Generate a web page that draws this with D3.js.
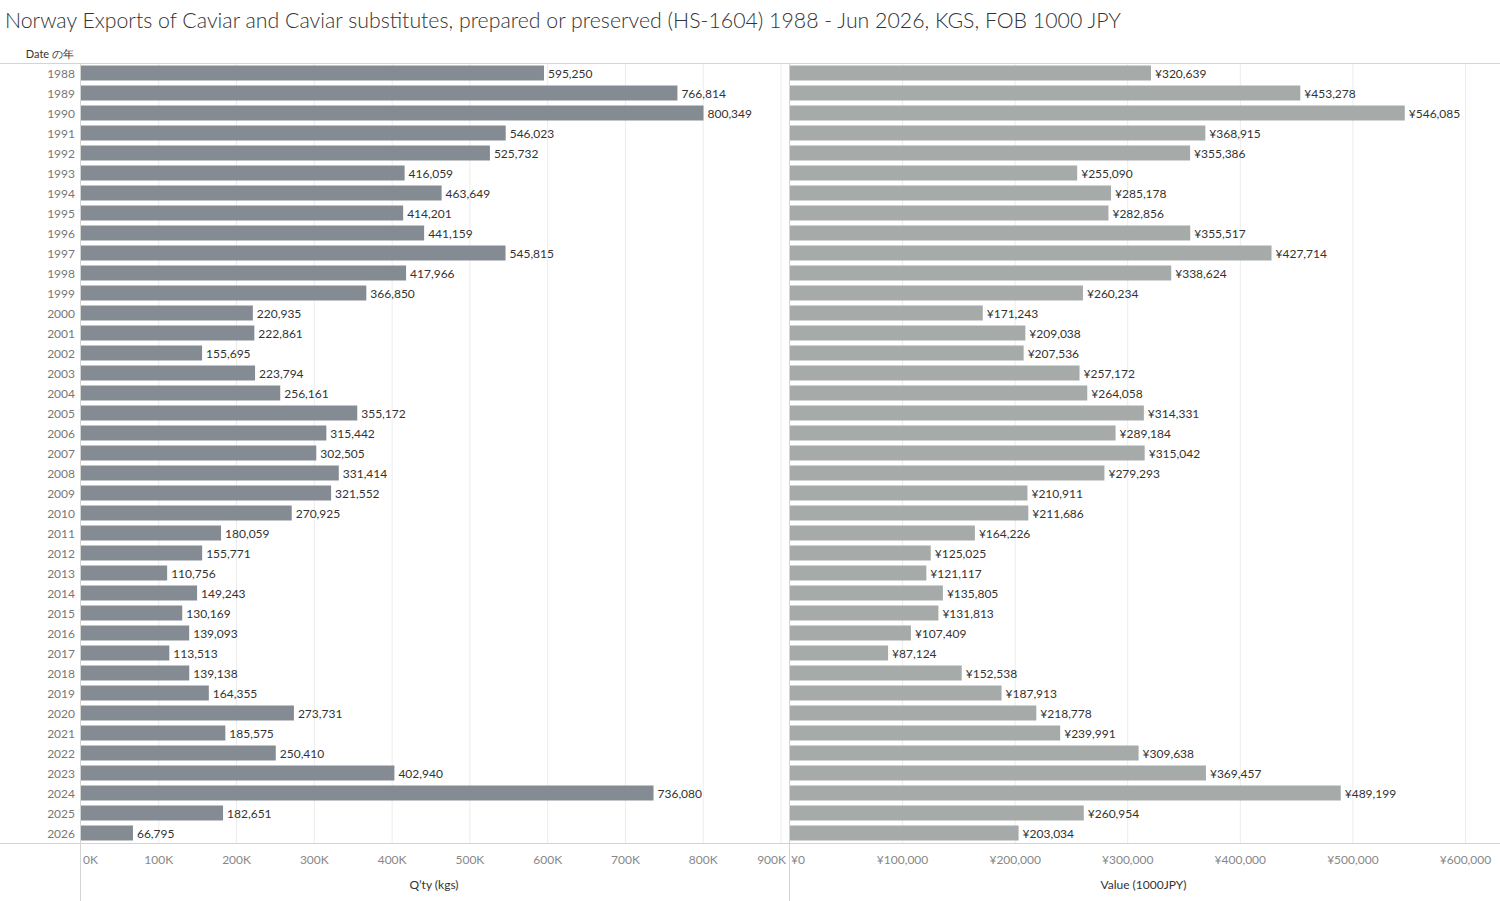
<!DOCTYPE html>
<html>
<head>
<meta charset="utf-8">
<script src="https://cdn.jsdelivr.net/npm/d3@7"></script>
<style>
  body { margin: 0; background: #fff; }
  text { font-family: Lato, "Open Sans", sans-serif; }
</style>
</head>
<body>
<div id="chart"></div>
<script>
// data
var years = [1988, 1989, 1990, 1991, 1992, 1993, 1994, 1995, 1996, 1997, 1998, 1999,
    2000, 2001, 2002, 2003, 2004, 2005, 2006, 2007, 2008, 2009, 2010, 2011, 2012,
    2013, 2014, 2015, 2016, 2017, 2018, 2019, 2020, 2021, 2022, 2023, 2024, 2025, 2026];

var qtyKgs = [595250, 766814, 800349, 546023, 525732, 416059, 463649, 414201, 441159,
    545815, 417966, 366850, 220935, 222861, 155695, 223794, 256161, 355172, 315442,
    302505, 331414, 321552, 270925, 180059, 155771, 110756, 149243, 130169, 139093,
    113513, 139138, 164355, 273731, 185575, 250410, 402940, 736080, 182651, 66795];

var valueJpy = [320639, 453278, 546085, 368915, 355386, 255090, 285178, 282856, 355517,
    427714, 338624, 260234, 171243, 209038, 207536, 257172, 264058, 314331, 289184,
    315042, 279293, 210911, 211686, 164226, 125025, 121117, 135805, 131813, 107409,
    87124, 152538, 187913, 218778, 239991, 309638, 369457, 489199, 260954, 203034];

var qtyTicks = [0, 100000, 200000, 300000, 400000, 500000, 600000, 700000, 800000, 900000];
var valueTicks = [0, 100000, 200000, 300000, 400000, 500000, 600000];

var titleText = "Norway Exports of Caviar and Caviar substitutes, prepared or preserved (HS-1604) 1988 - Jun 2026, KGS, FOB 1000 JPY";

(() => {
    var width = 1500;
    var height = 901;
    var top = 63, bottom = 843;

    var svg = d3.select("#chart")
        .append("svg")
        .attr("width", width)
        .attr("height", height);

    var rows = years.map(function (y, i) {
        return { year: y, qty: qtyKgs[i], value: valueJpy[i] };
    });

    var yScale = d3.scaleBand()
        .domain(years)
        .range([top, bottom])
        .paddingInner(0.25)
        .paddingOuter(0.125);

    var xQty = d3.scaleLinear().domain([0, 907700]).range([81, 787]);
    var xVal = d3.scaleLinear().domain([0, 628000]).range([790, 1497]);

    // title
    svg.append("text")
        .attr("x", 5)
        .attr("y", 28)
        .attr("font-size", "21.3px")
        .attr("font-weight", 300)
        .attr("fill", "#333")
        .text(titleText);

    svg.append("text")
        .attr("x", 74)
        .attr("y", 58)
        .attr("text-anchor", "end")
        .attr("font-size", "11px")
        .attr("fill", "#333")
        .text("Date の年");

    // gridlines
    function grid(scale, ticks) {
        svg.append("g")
            .selectAll("line")
            .data(ticks.slice(1))
            .join("line")
            .attr("x1", function (d) { return scale(d); })
            .attr("x2", function (d) { return scale(d); })
            .attr("y1", top)
            .attr("y2", bottom)
            .attr("stroke", "#ececec")
            .attr("stroke-width", 1);
    }
    grid(xQty, qtyTicks);
    grid(xVal, valueTicks);

    // frame lines
    svg.append("line").attr("x1", 0).attr("x2", width).attr("y1", top + 0.5).attr("y2", top + 0.5)
        .attr("stroke", "#d4d4d4");
    svg.append("line").attr("x1", 0).attr("x2", width).attr("y1", bottom + 0.5).attr("y2", bottom + 0.5)
        .attr("stroke", "#d4d4d4");
    svg.append("line").attr("x1", 80.5).attr("x2", 80.5).attr("y1", top).attr("y2", height)
        .attr("stroke", "#d4d4d4");
    svg.append("line").attr("x1", 789.5).attr("x2", 789.5).attr("y1", top).attr("y2", height)
        .attr("stroke", "#d4d4d4");

    // year labels
    svg.append("g")
        .selectAll("text")
        .data(rows)
        .join("text")
        .attr("x", 75)
        .attr("y", function (d) { return yScale(d.year) + yScale.bandwidth() / 2 + 1; })
        .attr("dy", "0.35em")
        .attr("text-anchor", "end")
        .attr("font-size", "12px")
        .attr("fill", "#777")
        .text(function (d) { return d.year; });

    // Q'ty bars
    svg.append("g")
        .selectAll("rect")
        .data(rows)
        .join("rect")
        .attr("x", xQty(0))
        .attr("y", function (d) { return yScale(d.year); })
        .attr("width", function (d) { return xQty(d.qty) - xQty(0); })
        .attr("height", yScale.bandwidth())
        .attr("fill", "#858b93");

    svg.append("g")
        .selectAll("text")
        .data(rows)
        .join("text")
        .attr("x", function (d) { return xQty(d.qty) + 4; })
        .attr("y", function (d) { return yScale(d.year) + yScale.bandwidth() / 2 + 1; })
        .attr("dy", "0.35em")
        .attr("font-size", "12px")
        .attr("fill", "#333")
        .text(function (d) { return d3.format(",")(d.qty); });

    // Value bars
    svg.append("g")
        .selectAll("rect")
        .data(rows)
        .join("rect")
        .attr("x", xVal(0))
        .attr("y", function (d) { return yScale(d.year); })
        .attr("width", function (d) { return xVal(d.value) - xVal(0); })
        .attr("height", yScale.bandwidth())
        .attr("fill", "#a6abaa");

    svg.append("g")
        .selectAll("text")
        .data(rows)
        .join("text")
        .attr("x", function (d) { return xVal(d.value) + 4; })
        .attr("y", function (d) { return yScale(d.year) + yScale.bandwidth() / 2 + 1; })
        .attr("dy", "0.35em")
        .attr("font-size", "12px")
        .attr("fill", "#333")
        .text(function (d) { return "¥" + d3.format(",")(d.value); });

    // tick labels, kept inside each panel
    function tickLabels(scale, ticks, fmt, lo, hi) {
        var g = svg.append("g");
        ticks.forEach(function (t) {
            var lbl = g.append("text")
                .attr("y", 864)
                .attr("font-size", "12px")
                .attr("fill", "#888")
                .text(fmt(t));
            var w = lbl.node().getComputedTextLength();
            var x = scale(t) - w / 2;
            x = Math.max(lo, Math.min(hi - w, x));
            lbl.attr("x", x);
        });
    }
    tickLabels(xQty, qtyTicks, function (t) { return (t / 1000) + "K"; }, 83, 786);
    tickLabels(xVal, valueTicks, function (t) { return "¥" + d3.format(",")(t); }, 791, 1494);

    // axis titles
    svg.append("text")
        .attr("x", (81 + 787) / 2)
        .attr("y", 889)
        .attr("text-anchor", "middle")
        .attr("font-size", "12px")
        .attr("fill", "#333")
        .text("Q’ty (kgs)");

    svg.append("text")
        .attr("x", (790 + 1497) / 2)
        .attr("y", 889)
        .attr("text-anchor", "middle")
        .attr("font-size", "12px")
        .attr("fill", "#333")
        .text("Value (1000JPY)");
})();
</script>
</body>
</html>
